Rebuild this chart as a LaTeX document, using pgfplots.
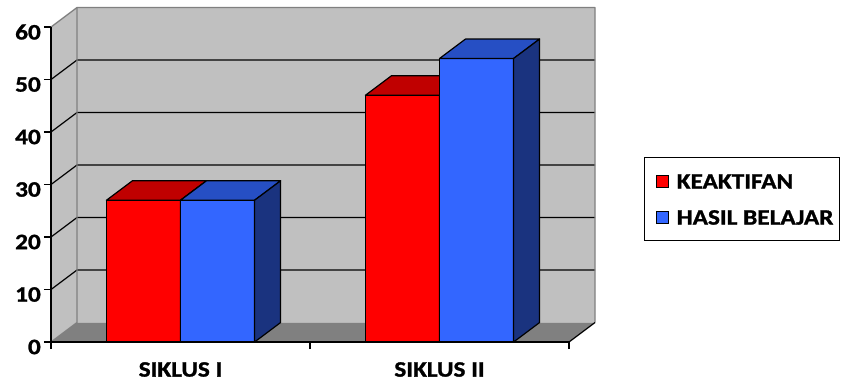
\documentclass[border=0pt]{standalone}
\usepackage{pgfplots}
\usepackage{pgfplotstable}
\pgfplotsset{compat=1.18}
\usepackage{fontspec}
\setmainfont{Carlito}[FakeStretch=1.15, BoldFeatures={FakeBold=1.2}]

\definecolor{wallgrey}{HTML}{C0C0C0}
\definecolor{floorgrey}{HTML}{808080}
\definecolor{edgegrey}{HTML}{808080}
\definecolor{redfront}{HTML}{FF0000}
\definecolor{redtop}{HTML}{C00000}
\definecolor{redside}{HTML}{800000}
\definecolor{bluefront}{HTML}{3366FF}
\definecolor{bluetop}{HTML}{264FC4}
\definecolor{blueside}{HTML}{1A337F}

% scores per cycle
\pgfplotstableread{
pos  keaktifan  hasil
1    27         27
2    47         54
}\siklus

% depth of the 3D box, in axis units
\def\dx{0.1004}
\def\dy{3.71}
\def\bw{0.286}

\newcommand\getval[3]{\pgfplotstablegetelem{#1}{#2}\of\siklus\global\let#3\pgfplotsretval}

% top and right-hand faces of one bar: x-left, x-right, height, top colour, side colour
\newcommand\barcap[5]{%
  \filldraw[fill=#4, draw=black, line width=1.2bp, line join=round]
    (axis cs:#1,#3) -- (axis cs:#2,#3) -- (axis cs:#2+\dx,#3+\dy) -- (axis cs:#1+\dx,#3+\dy) -- cycle;
  \filldraw[fill=#5, draw=black, line width=1.2bp, line join=round]
    (axis cs:#2,0) -- (axis cs:#2,#3) -- (axis cs:#2+\dx,#3+\dy) -- (axis cs:#2+\dx,\dy) -- cycle;
}

\newcommand\labfont{\fontsize{22bp}{26bp}\selectfont\bfseries}

\begin{document}
\getval{0}{keaktifan}\kaI
\getval{1}{keaktifan}\kaII
\getval{0}{hasil}\haI
\getval{1}{hasil}\haII
\begin{tikzpicture}
\begin{axis}[
  at={(0,0)}, anchor=south west,
  scale only axis,
  width=518bp, height=315bp,
  xmin=0.5, xmax=2.5, ymin=0, ymax=60,
  enlargelimits=false,
  clip=false,
  axis x line*=bottom, axis y line*=left,
  axis line style={black, line width=1.3bp},
  ytick={0,10,...,60},
  xtick={0.5,1.5,2.5}, xticklabels={},
  extra x ticks={1,2},
  extra x tick labels={SIKLUS I,SIKLUS II},
  extra x tick style={major tick length=0pt,
    xticklabel style={anchor=north, inner sep=0pt, yshift=-20bp}},
  tick align=outside,
  major tick length=7bp,
  tick style={black, line width=1.3bp},
  tick label style={font=\labfont, text=black},
  /pgf/number format/assume math mode=true,
  yticklabel style={anchor=east, inner sep=0pt, xshift=-3bp, yshift=-5bp},
  legend style={
    at={(1.1448,0.5873)}, anchor=north west,
    draw=black, line width=1.2bp, fill=white,
    inner xsep=6bp, inner ysep=16bp,
    row sep=21bp, column sep=8bp,
    font=\labfont,
    nodes={inner sep=0pt, text height=15bp, text depth=0bp},
  },
  legend cell align=left,
]
% side wall, back wall and floor
\fill[wallgrey] (axis cs:0.5,0) -- (axis cs:0.5,60) -- (axis cs:0.5+\dx,60+\dy)
   -- (axis cs:2.5+\dx,60+\dy) -- (axis cs:2.5+\dx,\dy) -- (axis cs:0.5+\dx,\dy) -- cycle;
\fill[floorgrey] (axis cs:0.5,0) -- (axis cs:2.5,0) -- (axis cs:2.5+\dx,\dy) -- (axis cs:0.5+\dx,\dy) -- cycle;
\pgfplotsinvokeforeach{10,20,30,40,50}{
  \draw[black, line width=1.2bp] (axis cs:0.5,#1) -- (axis cs:0.5+\dx,#1+\dy) -- (axis cs:2.5+\dx,#1+\dy);
}
\draw[edgegrey, line width=1.3bp, line join=round]
  (axis cs:0.5,60) -- (axis cs:0.5+\dx,60+\dy) -- (axis cs:2.5+\dx,60+\dy) -- (axis cs:2.5+\dx,\dy);
\draw[edgegrey, line width=1.3bp] (axis cs:0.5+\dx,60+\dy) -- (axis cs:0.5+\dx,\dy) -- (axis cs:0.5,0);
\draw[black, line width=1.2bp] (axis cs:2.5,0) -- (axis cs:2.5+\dx,\dy);

% KEAKTIFAN
\addplot[ybar, bar width=\bw, bar shift=-\bw/2, fill=redfront, draw=black, line width=1.2bp,
  legend image code/.code={\path (-5bp,0bp); \filldraw[fill=redfront, draw=black, line width=1bp] (0bp,-6bp) rectangle (12bp,6bp);}]
  table[x=pos, y=keaktifan] {\siklus};
\addlegendentry{KEAKTIFAN}
\barcap{1-\bw}{1}{\kaI}{redtop}{redside}
\barcap{2-\bw}{2}{\kaII}{redtop}{redside}

% HASIL BELAJAR
\addplot[ybar, bar width=\bw, bar shift=\bw/2, fill=bluefront, draw=black, line width=1.2bp,
  legend image code/.code={\path (-5bp,0bp); \filldraw[fill=bluefront, draw=black, line width=1bp] (0bp,-6bp) rectangle (12bp,6bp);}]
  table[x=pos, y=hasil] {\siklus};
\addlegendentry{HASIL BELAJAR}
\barcap{1}{1+\bw}{\haI}{bluetop}{blueside}
\barcap{2}{2+\bw}{\haII}{bluetop}{blueside}

% front edges of the floor and side wall
\draw[black, line width=1.3bp] (axis cs:0.5,0) -- (axis cs:2.5,0);
\draw[black, line width=1.3bp] (axis cs:0.5,0) -- (axis cs:0.5,60);
\end{axis}
\pgfresetboundingbox
\path (-51bp,-43bp) rectangle (791bp,342bp);
\end{tikzpicture}
\end{document}
